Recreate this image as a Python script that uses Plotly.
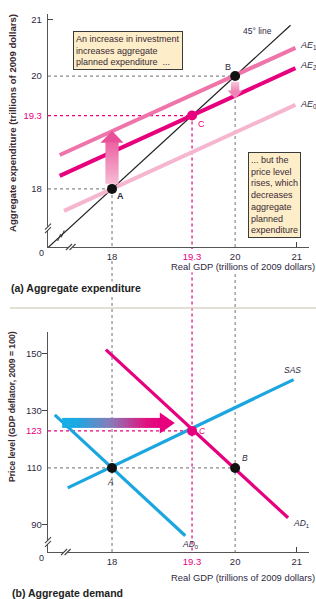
import plotly.graph_objects as go

# ---------------- data ----------------
gdp_ticks = [18, 19.3, 20, 21]
ae_ticks = [18, 19.3, 20, 21]
price_ticks = [90, 110, 123, 130, 150]

line45_x = [16.96, 20.9]
line45_y = [16.96, 20.9]
ae1_x = [17.15, 20.98]
ae1_y = [18.6, 20.5]
ae2_x = [17.15, 20.98]
ae2_y = [18.23, 20.14]
ae0_x = [17.22, 20.98]
ae0_y = [17.61, 19.49]
ae_pts_x = [18, 20, 19.3]
ae_pts_y = [18, 20, 19.3]

sas_x = [17.28, 20.95]
sas_y = [103, 141]
ad0_x = [17.07, 19.19]
ad0_y = [128.6, 86.2]
ad1_x = [17.9, 20.86]
ad1_y = [151.5, 92.5]
ad_pts_x = [18, 20, 19.3]
ad_pts_y = [110, 110, 123]

# ---------------- layout geometry ----------------
W, H = 316, 599
XR = [16.96, 21.2]
XD = [48 / W, 309 / W]
Y1R = [16.97, 21.1]
Y1D = [1 - 247 / H, 1 - 14 / H]
Y2R = [80.5, 157.7]
Y2D = [1 - 552 / H, 1 - 332 / H]

MAG = "#e6007e"
CYAN = "#1ba6df"
AE1C = "#ef74aa"
AE0C = "#f6b6d0"
GRAY = "#8a8a8a"
TXT = "#2f2a3f"
FONT = "Liberation Sans, Arial, sans-serif"


def xpx(v):
    return XD[0] * W + (v - XR[0]) / (XR[1] - XR[0]) * (XD[1] - XD[0]) * W


def ypx(v, R, D):
    return H - (D[0] * H + (v - R[0]) / (R[1] - R[0]) * (D[1] - D[0]) * H)


def ypaper(v, R, D):
    return D[0] + (v - R[0]) / (R[1] - R[0]) * (D[1] - D[0])


def pp(x, y):
    return x / W, 1 - y / H


fig = go.Figure()


def line(xs, ys, color, width, ax=1, dash=None):
    fig.add_trace(go.Scatter(
        x=xs, y=ys, mode="lines", line=dict(color=color, width=width, dash=dash),
        xaxis="x" if ax == 1 else "x2", yaxis="y" if ax == 1 else "y2",
        hoverinfo="skip", showlegend=False, cliponaxis=False))


# dotted guides (top)
line([XR[0], ae_pts_x[1]], [ae_pts_y[1]] * 2, GRAY, 1.2, 1, "dot")
line([XR[0], ae_pts_x[0]], [ae_pts_y[0]] * 2, GRAY, 1.2, 1, "dot")
line([XR[0], ae_pts_x[2]], [ae_pts_y[2]] * 2, MAG, 1.2, 1, "dot")
# dotted guides (bottom)
line([XR[0], ad_pts_x[1]], [ad_pts_y[1]] * 2, GRAY, 1.2, 2, "dot")
line([XR[0], ad_pts_x[2]], [ad_pts_y[2]] * 2, MAG, 1.2, 2, "dot")

shapes = []
# vertical dotted lines crossing both panels
for xv, yv, col in [(ae_pts_x[0], ae_pts_y[0], GRAY), (ae_pts_x[1], ae_pts_y[1], GRAY),
                    (ae_pts_x[2], ae_pts_y[2], MAG)]:
    shapes.append(dict(type="line", xref="x", yref="paper", x0=xv, x1=xv,
                       y0=ypaper(yv, Y1R, Y1D), y1=Y2D[0],
                       line=dict(color=col, width=1.2, dash="dot"), layer="below"))
# white backing behind x tick labels so the dotted lines do not run through them
for axis_py in (ypx(Y1R[0], Y1R, Y1D), ypx(Y2R[0], Y2R, Y2D)):
    for v in gdp_ticks[:3]:
        cx = xpx(v)
        x0, y0 = pp(cx - 9, axis_py + 13)
        x1, y1 = pp(cx + 9, axis_py + 2)
        shapes.append(dict(type="rect", xref="paper", yref="paper", x0=x0, x1=x1, y0=y0, y1=y1,
                           fillcolor="white", line=dict(width=0), layer="below"))

# top lines
line(line45_x, line45_y, "#222222", 1.2, 1)
line(ae0_x, ae0_y, AE0C, 4, 1)
line(ae1_x, ae1_y, AE1C, 4, 1)
line(ae2_x, ae2_y, MAG, 4, 1)
# bottom lines
line(sas_x, sas_y, CYAN, 3.2, 2)
line(ad0_x, ad0_y, CYAN, 3.2, 2)
line(ad1_x, ad1_y, MAG, 3.2, 2)

# points
fig.add_trace(go.Scatter(x=ae_pts_x, y=ae_pts_y, mode="markers", xaxis="x", yaxis="y",
                         marker=dict(size=10, color=["#111", "#111", MAG]),
                         hoverinfo="skip", showlegend=False, cliponaxis=False))
fig.add_trace(go.Scatter(x=ad_pts_x, y=ad_pts_y, mode="markers", xaxis="x2", yaxis="y2",
                         marker=dict(size=10, color=["#111", "#111", MAG]),
                         hoverinfo="skip", showlegend=False, cliponaxis=False))


# ---------------- gradient arrows ----------------
def hex2rgb(h):
    h = h.lstrip("#")
    return [int(h[i:i + 2], 16) for i in (0, 2, 4)]


def interp(stops, t):
    for i in range(len(stops) - 1):
        t0, c0 = stops[i]
        t1, c1 = stops[i + 1]
        if t0 <= t <= t1:
            f = (t - t0) / (t1 - t0) if t1 > t0 else 0
            a, b = hex2rgb(c0), hex2rgb(c1)
            return "rgb(%d,%d,%d)" % tuple(round(a[k] + (b[k] - a[k]) * f) for k in range(3))
    return stops[-1][1]


def path(pts):
    s = ""
    for i, (x, y) in enumerate(pts):
        px, py = pp(x, y)
        s += ("M" if i == 0 else " L") + " %.5f %.5f" % (px, py)
    return s + " Z"


def grad_arrow(p0, p1, shaft_w, head_w, head_len, stops, head_color, n=28):
    dx, dy = p1[0] - p0[0], p1[1] - p0[1]
    L = (dx * dx + dy * dy) ** 0.5
    ux, uy = dx / L, dy / L
    nx, ny = -uy, ux
    sl = L - head_len
    for i in range(n):
        a = sl * i / n
        b = min(sl * (i + 1) / n + 0.6, sl + 0.5)
        t = (i + 0.5) / n
        c = interp(stops, t)
        pts = []
        for d, s in [(a, -1), (b, -1), (b, 1), (a, 1)]:
            pts.append((p0[0] + ux * d + nx * s * shaft_w / 2, p0[1] + uy * d + ny * s * shaft_w / 2))
        shapes.append(dict(type="path", xref="paper", yref="paper", path=path(pts),
                           fillcolor=c, line=dict(width=0), layer="above"))
    bx, by = p0[0] + ux * sl, p0[1] + uy * sl
    pts = [(bx + nx * head_w / 2, by + ny * head_w / 2), (p1[0], p1[1]),
           (bx - nx * head_w / 2, by - ny * head_w / 2)]
    shapes.append(dict(type="path", xref="paper", yref="paper", path=path(pts),
                       fillcolor=head_color, line=dict(width=0), layer="above"))


# up arrow (AE0 -> AE2 shift)
grad_arrow((xpx(18), ypx(18.09, Y1R, Y1D)), (xpx(18), ypx(19.03, Y1R, Y1D)), 13, 23, 12,
           [(0, "#f6bcd3"), (1, "#ec62a3")], "#e8509a")
# small down arrow at B
grad_arrow((xpx(20), ypx(19.9, Y1R, Y1D)), (xpx(20), ypx(19.6, Y1R, Y1D)), 8, 15, 8,
           [(0, "#f9c8dc"), (1, "#f08ab8")], "#ef84b4")
# horizontal arrow (AD shift)
grad_arrow((xpx(17.19), ypx(125.8, Y2R, Y2D)), (xpx(19.02), ypx(125.8, Y2R, Y2D)), 10, 21, 15,
           [(0, "#14aee6"), (0.15, "#1aa8e2"), (0.5, "#8a7ab8"), (0.85, "#e0157f"), (1, MAG)], MAG)


# ---------------- axis breaks ----------------
def brk(cx, cy, vertical):
    if vertical:
        shapes.append(dict(type="rect", xref="paper", yref="paper",
                           x0=pp(cx - 3, 0)[0], x1=pp(cx + 3, 0)[0],
                           y0=pp(0, cy + 2)[1], y1=pp(0, cy - 2)[1],
                           fillcolor="white", line=dict(width=0), layer="above"))
        offs = [(0, -1.8), (0, 1.8)]
    else:
        shapes.append(dict(type="rect", xref="paper", yref="paper",
                           x0=pp(cx - 2, 0)[0], x1=pp(cx + 2, 0)[0],
                           y0=pp(0, cy + 3)[1], y1=pp(0, cy - 3)[1],
                           fillcolor="white", line=dict(width=0), layer="above"))
        offs = [(-1.8, 0), (1.8, 0)]
    for ox, oy in offs:
        x0, y0 = pp(cx + ox - 3, cy + oy + 3)
        x1, y1 = pp(cx + ox + 3, cy + oy - 3)
        shapes.append(dict(type="line", xref="paper", yref="paper", x0=x0, y0=y0, x1=x1, y1=y1,
                           line=dict(color="#444", width=1.1), layer="above"))


brk(xpx(XR[0]), ypx(17.3, Y1R, Y1D), True)
brk(xpx(17.33), ypx(Y1R[0], Y1R, Y1D), False)
brk(xpx(XR[0]), ypx(84.0, Y2R, Y2D), True)
brk(xpx(17.25), ypx(Y2R[0], Y2R, Y2D), False)
# break on the 45 degree line
bx, by = xpx(17.17), ypx(17.17, Y1R, Y1D)
for o in (-1.8, 1.8):
    shapes.append(dict(type="line", xref="paper", yref="paper",
                       x0=pp(bx + o - 1.5, 0)[0], y0=pp(0, by - o + 3.5)[1],
                       x1=pp(bx + o + 1.5, 0)[0], y1=pp(0, by - o - 3.5)[1],
                       line=dict(color="#333", width=1.0), layer="above"))

# separator
shapes.append(dict(type="line", xref="paper", yref="paper", x0=10 / W, x1=1,
                   y0=1 - 308 / H, y1=1 - 308 / H, line=dict(color="#d8d4c6", width=1.6)))

# ---------------- annotations ----------------
ann = []


def A(text, x, y, xref="paper", yref="paper", size=9, color=TXT, xa="center", ya="middle", **kw):
    d = dict(text=text, x=x, y=y, xref=xref, yref=yref, showarrow=False,
             font=dict(size=size, color=color, family=FONT), xanchor=xa, yanchor=ya)
    d.update(kw)
    ann.append(d)


A("45° line", 20.37, 20.8, "x", "y", 8.5)
A("<i>AE</i><sub>1</sub>", 21.02, 20.55, "x", "y", 9, xa="left")
A("<i>AE</i><sub>2</sub>", 21.02, 20.19, "x", "y", 9, xa="left")
A("<i>AE</i><sub>0</sub>", 21.02, 19.5, "x", "y", 9, xa="left")
A("<b>A</b>", 18.05, 17.99, "x", "y", 9, xa="left", ya="top")
A("B", 19.96, 20.03, "x", "y", 9, xa="right", ya="bottom")
A("C", 19.36, 19.28, "x", "y", 9, MAG, xa="left", ya="top")

A("<i>SAS</i>", 20.93, 144.5, "x2", "y2", 8.5)
A("<i>AD</i><sub>0</sub>", 19.27, 83.0, "x2", "y2", 8.5)
A("<i>AD</i><sub>1</sub>", 20.9, 90.5, "x2", "y2", 8.5, xa="left")
A("<i>A</i>", 17.98, 107.5, "x2", "y2", 8.5, xa="center", ya="top")
A("<i>B</i>", 20.08, 111.0, "x2", "y2", 8.5, xa="left", ya="bottom")
A("<i>C</i>", 19.38, 123, "x2", "y2", 8.5, MAG, xa="left")

A("0", pp(42, 0)[0], pp(0, 253)[1], size=9)
A("0", pp(42, 0)[0], pp(0, 558)[1], size=9)

A("<b>Aggregate expenditure (trillions of 2009 dollars)</b>", pp(12, 0)[0], pp(0, 123)[1],
  size=9.6, textangle=-90, color="#3a2a30")
A("<b>Price level (GDP deflator, 2009 = 100)</b>", pp(12, 0)[0], pp(0, 407)[1], size=8.6,
  textangle=-90, color="#3a2a30")
A("Real GDP (trillions of 2009 dollars)", 1.0, pp(0, 266)[1], size=9.4, xa="right",
  bgcolor="white", borderpad=0)
A("Real GDP (trillions of 2009 dollars)", 1.0, pp(0, 577)[1], size=9.4, xa="right",
  bgcolor="white", borderpad=0)
A("<b>(a) Aggregate expenditure</b>", pp(10, 0)[0], pp(0, 288)[1], size=10.5, xa="left",
  color="#222", bgcolor="white", borderpad=0)
A("<b>(b) Aggregate demand</b>", pp(10, 0)[0], pp(0, 593)[1], size=10.5, xa="left", color="#222")

A("An increase in investment<br>increases aggregate<br>planned expenditure  ...",
  pp(73, 0)[0], pp(0, 31)[1], size=9, color="#3a2a35", xa="left", ya="top", align="left",
  bgcolor="#fdedc8", bordercolor="#3a3a3a", borderwidth=1, borderpad=2)
A("... but the<br>price level<br>rises, which<br>decreases<br>aggregate<br>planned<br>expenditure",
  pp(248, 0)[0], pp(0, 152)[1], size=9, color="#3a2a35", xa="left", ya="top", align="left",
  bgcolor="#fdedc8", bordercolor="#3a3a3a", borderwidth=1, borderpad=2)


def tt(vals, special):
    out = []
    for v in vals:
        s = ("%g" % v)
        out.append('<span style="color:%s">%s</span>' % (MAG, s) if v == special else s)
    return out


axcommon = dict(showgrid=False, zeroline=False, showline=True, linecolor="#555", linewidth=1.4,
                tickfont=dict(size=9.5, color=TXT, family=FONT), ticks="", fixedrange=True)

fig.update_layout(
    width=W, height=H, margin=dict(l=0, r=0, t=0, b=0),
    paper_bgcolor="white", plot_bgcolor="white", showlegend=False,
    xaxis=dict(axcommon, domain=XD, range=XR, anchor="y", tickmode="array", tickvals=gdp_ticks,
               ticktext=tt(gdp_ticks, 19.3),
               minor=dict(tickmode="array", tickvals=[21], ticks="inside", ticklen=5,
                          tickcolor="#444", tickwidth=1.3)),
    yaxis=dict(axcommon, domain=Y1D, range=Y1R, anchor="x", tickmode="array", tickvals=ae_ticks,
               ticktext=tt(ae_ticks, 19.3), ticklabelstandoff=3,
               minor=dict(tickmode="array", tickvals=[21], ticks="inside", ticklen=5,
                          tickcolor="#444", tickwidth=1.3)),
    xaxis2=dict(axcommon, domain=XD, range=XR, anchor="y2", tickmode="array", tickvals=gdp_ticks,
                ticktext=tt(gdp_ticks, 19.3),
                minor=dict(tickmode="array", tickvals=[21], ticks="inside", ticklen=5,
                           tickcolor="#444", tickwidth=1.3)),
    yaxis2=dict(axcommon, domain=Y2D, range=Y2R, anchor="x2", tickmode="array",
                tickvals=price_ticks, ticktext=tt(price_ticks, 123), ticklabelstandoff=3,
                minor=dict(tickmode="array", tickvals=[90, 130, 150], ticks="outside", ticklen=5,
                           tickcolor="#444", tickwidth=1.3)),
    shapes=shapes, annotations=ann,
)

fig.write_html("out.html", config={"displayModeBar": False},
               post_script="document.body.style.margin='0';document.body.style.overflow='hidden';")
